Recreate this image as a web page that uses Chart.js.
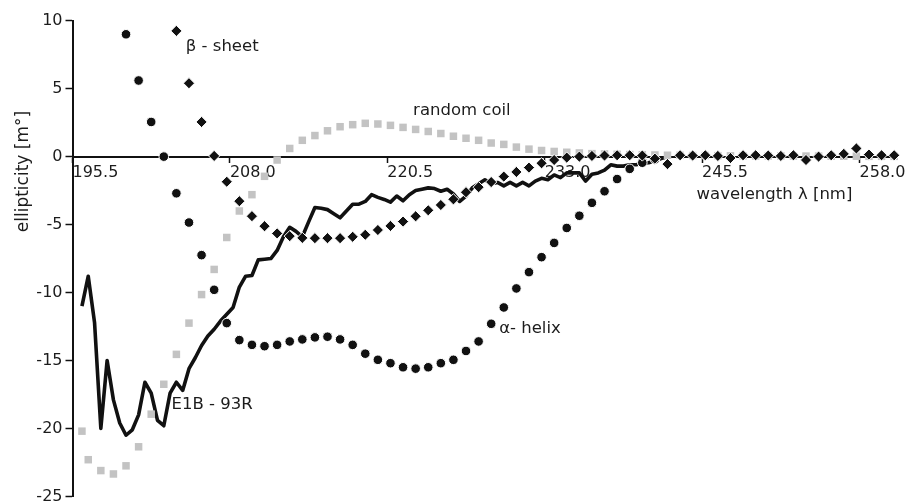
<!DOCTYPE html>
<html>
<head>
<meta charset="utf-8">
<script src="https://cdn.jsdelivr.net/npm/chart.js@4"></script>
<style>
  html, body { margin: 0; padding: 0; background: #fff; }
  #wrap { width: 907px; height: 503px; position: relative; }
</style>
</head>
<body>
<div id="wrap"><canvas id="cd"></canvas></div>
<script>
// CD spectra: ellipticity [m°] against wavelength [nm]

// E1B - 93R measured spectrum (continuous trace)
const e1bWavelengths = [
  196.25, 196.75, 197.25, 197.75, 198.25, 198.75, 199.25, 199.75, 200.25, 200.75,
  201.25, 201.75, 202.25, 202.75, 203.25, 203.75, 204.25, 204.75, 205.25, 205.75,
  206.25, 206.75, 207.25, 207.75, 208.25, 208.75, 209.25, 209.75, 210.25, 210.75,
  211.25, 211.75, 212.25, 212.75, 213.25, 213.75, 214.25, 214.75, 215.25, 215.75,
  216.25, 216.75, 217.25, 217.75, 218.25, 218.75, 219.25, 219.75, 220.25, 220.75,
  221.25, 221.75, 222.25, 222.75, 223.25, 223.75, 224.25, 224.75, 225.25, 225.75,
  226.25, 226.75, 227.25, 227.75, 228.25, 228.75, 229.25, 229.75, 230.25, 230.75,
  231.25, 231.75, 232.25, 232.75, 233.25, 233.75, 234.25, 234.75, 235.25, 235.75,
  236.25, 236.75, 237.25, 237.75, 238.25, 238.75, 239.25, 239.75, 240.25, 240.75,
  241.25, 241.75, 242.25, 242.75
];
const e1bValues = [
  -11.0, -8.8, -12.2, -20.0, -15.0, -17.9, -19.6, -20.5, -20.1, -19.0,
  -16.6, -17.4, -19.4, -19.8, -17.4, -16.6, -17.2, -15.6, -14.8, -13.9,
  -13.2, -12.7, -12.1, -11.6, -11.1, -9.6, -8.8, -8.75, -7.6, -7.55,
  -7.5, -6.9, -5.9, -5.2, -5.5, -5.9, -4.8, -3.75, -3.8, -3.9,
  -4.2, -4.5, -4.0, -3.5, -3.5, -3.3, -2.8, -3.0, -3.15, -3.35,
  -2.9, -3.25, -2.8, -2.5, -2.4, -2.3, -2.35, -2.55, -2.4, -2.75,
  -3.3, -2.9, -2.3, -2.0, -1.7, -2.0, -1.9, -2.15, -1.9, -2.15,
  -1.9, -2.15, -1.8, -1.6, -1.7, -1.35, -1.55, -1.2, -1.2, -1.2,
  -1.8, -1.3, -1.2, -1.0, -0.6, -0.7, -0.7, -0.6, -0.6, -0.5,
  -0.45, -0.3, -0.15, 0.0
];

// alpha-helix reference spectrum
const helixWavelengths = [
  199.75, 200.75, 201.75, 202.75, 203.75, 204.75, 205.75, 206.75, 207.75, 208.75,
  209.75, 210.75, 211.75, 212.75, 213.75, 214.75, 215.75, 216.75, 217.75, 218.75,
  219.75, 220.75, 221.75, 222.75, 223.75, 224.75, 225.75, 226.75, 227.75, 228.75,
  229.75, 230.75, 231.75, 232.75, 233.75, 234.75, 235.75, 236.75, 237.75, 238.75,
  239.75, 240.75, 241.75
];
const helixValues = [
  9.0, 5.6, 2.55, 0.0, -2.7, -4.85, -7.25, -9.8, -12.25, -13.5,
  -13.85, -13.95, -13.85, -13.6, -13.45, -13.3, -13.25, -13.45, -13.85, -14.5,
  -14.95, -15.2, -15.5, -15.6, -15.5, -15.2, -14.95, -14.3, -13.6, -12.3,
  -11.1, -9.7, -8.5, -7.4, -6.35, -5.25, -4.35, -3.4, -2.55, -1.65,
  -0.9, -0.45, -0.2
];

// beta-sheet reference spectrum
const sheetWavelengths = [
  203.75, 204.75, 205.75, 206.75, 207.75, 208.75, 209.75, 210.75, 211.75, 212.75,
  213.75, 214.75, 215.75, 216.75, 217.75, 218.75, 219.75, 220.75, 221.75, 222.75,
  223.75, 224.75, 225.75, 226.75, 227.75, 228.75, 229.75, 230.75, 231.75, 232.75,
  233.75, 234.75, 235.75, 236.75, 237.75, 238.75, 239.75, 240.75, 241.75, 242.75,
  243.75, 244.75, 245.75, 246.75, 247.75, 248.75, 249.75, 250.75, 251.75, 252.75,
  253.75, 254.75, 255.75, 256.75, 257.75, 258.75, 259.75, 260.75
];
const sheetValues = [
  9.25, 5.4, 2.55, 0.05, -1.85, -3.28, -4.38, -5.12, -5.65, -5.85,
  -5.98, -6.0, -6.0, -6.0, -5.9, -5.75, -5.4, -5.1, -4.78, -4.39,
  -3.95, -3.56, -3.14, -2.62, -2.25, -1.87, -1.47, -1.13, -0.81, -0.49,
  -0.25, -0.07, 0.0, 0.05, 0.08, 0.1, 0.1, 0.08, -0.15, -0.55,
  0.1, 0.08, 0.1, 0.05, -0.1, 0.1, 0.1, 0.08, 0.05, 0.1,
  -0.25, 0.0, 0.1, 0.2, 0.6, 0.15, 0.1, 0.1
];

// random-coil reference spectrum
const coilWavelengths = [
  196.25, 196.75, 197.75, 198.75, 199.75, 200.75, 201.75, 202.75, 203.75, 204.75,
  205.75, 206.75, 207.75, 208.75, 209.75, 210.75, 211.75, 212.75, 213.75, 214.75,
  215.75, 216.75, 217.75, 218.75, 219.75, 220.75, 221.75, 222.75, 223.75, 224.75,
  225.75, 226.75, 227.75, 228.75, 229.75, 230.75, 231.75, 232.75, 233.75, 234.75,
  235.75, 236.75, 237.75, 238.75, 239.75, 240.75, 241.75, 242.75, 243.75, 244.75,
  245.75, 246.75, 247.75, 248.75, 249.75, 250.75, 251.75, 252.75, 253.75, 254.75,
  255.75, 256.75, 257.75, 258.75, 259.75, 260.75
];
const coilValues = [
  -20.2, -22.3, -23.1, -23.35, -22.75, -21.35, -18.95, -16.75, -14.55, -12.25,
  -10.15, -8.3, -5.95, -4.0, -2.8, -1.45, -0.25, 0.6, 1.2, 1.55,
  1.9, 2.2, 2.35, 2.45, 2.4, 2.3, 2.15, 2.0, 1.85, 1.7,
  1.5, 1.35, 1.2, 1.0, 0.9, 0.7, 0.55, 0.45, 0.38, 0.32,
  0.27, 0.22, 0.2, 0.17, 0.15, 0.14, 0.12, 0.1, 0.1, 0.08,
  0.08, 0.07, 0.06, 0.06, 0.05, 0.05, 0.05, 0.04, 0.04, 0.04,
  0.03, 0.03, 0.03, 0.02, 0.02, 0.02
];

// axis ticks
const wavelengthTicks = [195.5, 208.0, 220.5, 233.0, 245.5, 258.0];
const ellipticityTicks = [10, 5, 0, -5, -10, -15, -20, -25];

const ink = '#111111';
const textInk = '#1c1c1c';
const coilGrey = '#c3c3c3';
const fontFamily = '"DejaVu Sans", "Liberation Sans", Arial, sans-serif';

const pairs = (xs, ys) => xs.map((x, i) => ({ x: x, y: ys[i] }));

// curve names and axis captions placed in data coordinates
const captions = [
  { text: '\u03B2 - sheet', at: [204.5, 8.1] },
  { text: 'random coil', at: [222.55, 3.37] },
  { text: '\u03B1- helix', at: [229.38, -12.63] },
  { text: 'E1B - 93R', at: [203.36, -18.27] },
  { text: 'wavelength \u03BB [nm]', at: [245.06, -2.83] }
];

const captionPlugin = {
  id: 'captions',
  afterDraw(chart) {
    const { ctx, chartArea } = chart;
    const xs = chart.scales.x, ys = chart.scales.y;
    ctx.save();
    ctx.fillStyle = textInk;
    ctx.textAlign = 'left';
    ctx.textBaseline = 'middle';
    ctx.font = '16.5px ' + fontFamily;
    captions.forEach(c => {
      ctx.fillText(c.text, xs.getPixelForValue(c.at[0]), ys.getPixelForValue(c.at[1]));
    });
    // rotated y-axis caption
    ctx.translate(chartArea.left - 48.5, ys.getPixelForValue(-1.1));
    ctx.rotate(-Math.PI / 2);
    ctx.textAlign = 'center';
    ctx.font = '17px ' + fontFamily;
    ctx.fillText('ellipticity [m\u00B0]', 0, 0);
    ctx.restore();
  }
};

const zeroPadding = s => { s.paddingLeft = 0; s.paddingRight = 0; s.paddingTop = 0; s.paddingBottom = 0; };

new Chart(document.getElementById('cd'), {
  type: 'scatter',
  data: {
    datasets: [
      {
        label: 'E1B - 93R',
        data: pairs(e1bWavelengths, e1bValues),
        showLine: true,
        borderColor: ink,
        borderWidth: 3.6,
        borderJoinStyle: 'round',
        tension: 0,
        pointRadius: 0,
        order: 4,
        clip: false
      },
      {
        label: 'random coil',
        data: pairs(coilWavelengths, coilValues),
        pointStyle: 'rect',
        pointRadius: 5.3,
        backgroundColor: coilGrey,
        borderWidth: 0,
        order: 3,
        clip: false
      },
      {
        label: 'alpha helix',
        data: pairs(helixWavelengths, helixValues),
        pointStyle: 'circle',
        pointRadius: 4.8,
        backgroundColor: ink,
        borderColor: '#ffffff',
        borderWidth: 1,
        order: 2,
        clip: false
      },
      {
        label: 'beta sheet',
        data: pairs(sheetWavelengths, sheetValues),
        pointStyle: 'rectRot',
        pointRadius: 5.6,
        backgroundColor: ink,
        borderColor: '#ffffff',
        borderWidth: 1,
        order: 1,
        clip: false
      }
    ]
  },
  options: {
    responsive: true,
    maintainAspectRatio: false,
    animation: false,
    devicePixelRatio: 1,
    events: [],
    layout: { padding: { left: 0.5, top: 20.7, right: 9.7, bottom: 5.7 } },
    plugins: { legend: { display: false }, tooltip: { enabled: false } },
    scales: {
      x: {
        type: 'linear',
        position: { y: 0 },
        min: 195.5,
        max: 261,
        afterBuildTicks: s => { s.ticks = wavelengthTicks.map(v => ({ value: v })); },
        afterFit: zeroPadding,
        ticks: {
          align: 'start',
          padding: 2,
          autoSkip: false,
          maxRotation: 0,
          color: textInk,
          font: { family: fontFamily, size: 16 },
          callback: v => Number(v).toFixed(1)
        },
        grid: { drawOnChartArea: false, drawTicks: true, tickLength: 5, tickWidth: 1.5, color: ink },
        border: { display: true, color: ink, width: 2 }
      },
      y: {
        type: 'linear',
        position: 'left',
        min: -25,
        max: 10,
        afterBuildTicks: s => { s.ticks = ellipticityTicks.map(v => ({ value: v })); },
        afterFit: s => { zeroPadding(s); s.width = 72; },
        ticks: {
          padding: 3,
          color: textInk,
          font: { family: fontFamily, size: 16 }
        },
        grid: { drawOnChartArea: false, drawTicks: true, tickLength: 7, tickWidth: 1.5, color: ink },
        border: { display: true, color: ink, width: 2 }
      }
    }
  },
  plugins: [captionPlugin]
});
</script>
</body>
</html>
